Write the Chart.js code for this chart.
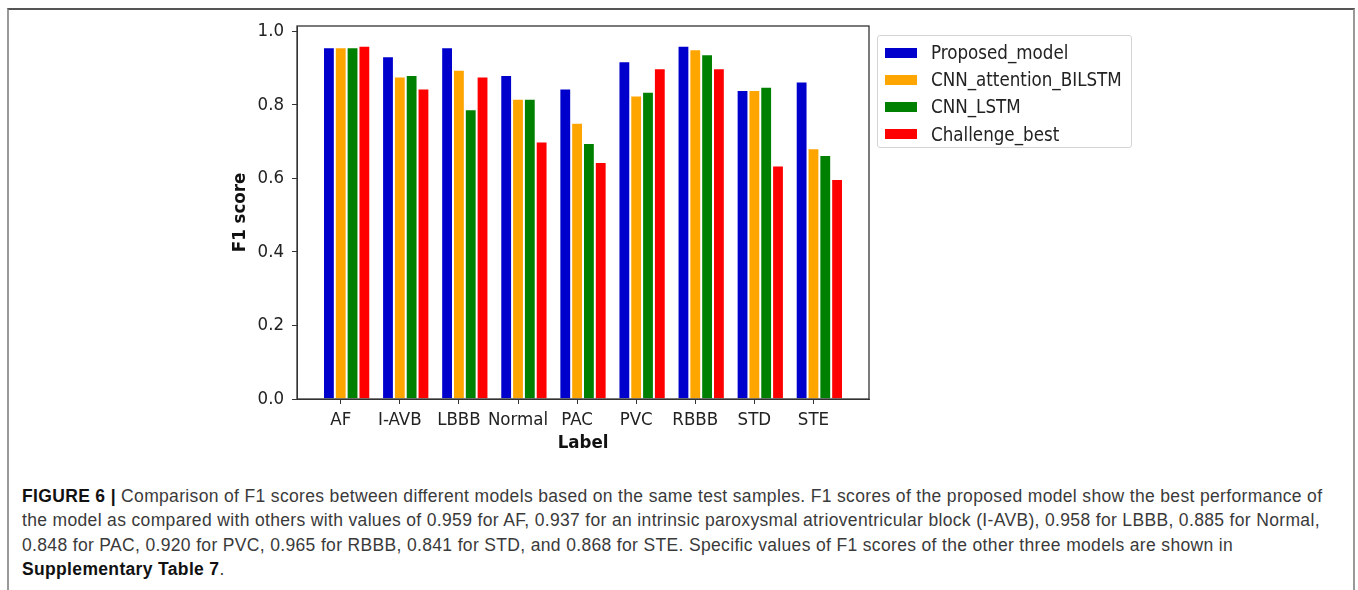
<!DOCTYPE html>
<html>
<head>
<meta charset="utf-8">
<script src="https://cdn.jsdelivr.net/npm/chart.js@4/dist/chart.umd.min.js"></script>
<style>
  body { margin: 0; background: #fff; width: 1358px; height: 590px; overflow: hidden; position: relative; }
  .frame { position: absolute; left: 7px; top: 8px; width: 1348px; height: 640px; border-top: 2px solid #555; border-left: 2px solid #999; border-right: 2px solid #999; box-sizing: border-box; }
  .chart-wrap { position: absolute; left: 0; top: 0; width: 1358px; height: 460px; }
  .legend { position: absolute; left: 877px; top: 35px; width: 255px; height: 113px; box-sizing: border-box; border: 1px solid #d4d4d4; border-radius: 3px; padding-top: 3px; font-family: 'DejaVu Sans Condensed', 'DejaVu Sans', sans-serif; font-size: 18.6px; color: #222; }
  .legend .row { height: 27.2px; display: flex; align-items: center; }
  .legend .patch { width: 32px; height: 10px; margin-left: 7px; margin-right: 14px; }
  .caption { position: absolute; left: 22px; top: 484px; font-family: 'Liberation Sans', Arial, sans-serif; font-size: 17.5px; letter-spacing: 0.34px; line-height: 24.3px; color: #3a3a3a; white-space: nowrap; }
  .caption b { color: #111; }
</style>
</head>
<body>
<div class="frame"></div>
<div class="chart-wrap"><canvas id="chart"></canvas></div>
<div class="legend" id="legend"></div>
<div class="caption">
<b>FIGURE 6 |</b> Comparison of F1 scores between different models based on the same test samples. F1 scores of the proposed model show the best performance of<br>
the model as compared with others with values of 0.959 for AF, 0.937 for an intrinsic paroxysmal atrioventricular block (I-AVB), 0.958 for LBBB, 0.885 for Normal,<br>
0.848 for PAC, 0.920 for PVC, 0.965 for RBBB, 0.841 for STD, and 0.868 for STE. Specific values of F1 scores of the other three models are shown in<br>
<b>Supplementary Table 7</b>.
</div>
<script>
const categories = ['AF', 'I-AVB', 'LBBB', 'Normal', 'PAC', 'PVC', 'RBBB', 'STD', 'STE'];
const seriesNames = ['Proposed_model', 'CNN_attention_BILSTM', 'CNN_LSTM', 'Challenge_best'];
const proposedModel = [0.956, 0.932, 0.956, 0.881, 0.844, 0.918, 0.960, 0.840, 0.863];
const cnnAttentionBilstm = [0.956, 0.877, 0.895, 0.816, 0.751, 0.825, 0.951, 0.840, 0.682];
const cnnLstm = [0.956, 0.881, 0.788, 0.816, 0.696, 0.835, 0.937, 0.849, 0.663];
const challengeBest = [0.960, 0.844, 0.877, 0.700, 0.644, 0.899, 0.899, 0.635, 0.598];
const yTicks = [0, 0.2, 0.4, 0.6, 0.8, 1.0];
const colors = ['#0000cd', '#ffa500', '#008000', '#ff0000'];

const seriesValues = [proposedModel, cnnAttentionBilstm, cnnLstm, challengeBest];

Chart.defaults.font.family = "'DejaVu Sans Condensed', 'DejaVu Sans', sans-serif";
Chart.defaults.font.size = 18.5;
Chart.defaults.color = '#222';

// spines on all four sides, like matplotlib
const frame = {
  id: 'frame',
  afterDraw(chart) {
    const a = chart.chartArea, ctx = chart.ctx;
    ctx.save();
    ctx.strokeStyle = '#333';
    ctx.lineWidth = 1.3;
    ctx.strokeRect(a.left, a.top, a.right - a.left, a.bottom - a.top);
    ctx.restore();
  }
};

new Chart(document.getElementById('chart'), {
  type: 'bar',
  data: {
    datasets: seriesNames.map((name, k) => ({
      label: name,
      data: seriesValues[k].map((v, i) => ({ x: i, y: v })),
      backgroundColor: colors[k],
      borderColor: '#fff',
      borderWidth: 1,
      categoryPercentage: 0.8,
      barPercentage: 1.0
    }))
  },
  options: {
    responsive: true,
    maintainAspectRatio: false,
    animation: false,
    layout: { padding: { left: 224, right: 489, top: 26, bottom: 4 } },
    plugins: { legend: { display: false }, tooltip: { enabled: false } },
    scales: {
      x: {
        type: 'linear',
        offset: false,
        min: -0.84,
        max: 8.84,
        // the original puts each label under the second bar of its group
        afterBuildTicks: (scale) => { scale.ticks = categories.map((c, i) => ({ value: i - 0.1 })); },
        afterFit: (scale) => { scale.height = 57; },
        ticks: { autoSkip: false, maxRotation: 0, padding: 5, callback: (v, idx) => categories[idx] },
        grid: { offset: false, drawOnChartArea: false, drawTicks: true, tickLength: 5, color: '#333' },
        border: { display: true, color: '#333' },
        title: { display: true, text: 'Label', font: { weight: 'bold', size: 18.5 }, color: '#111', padding: { top: 2, bottom: 2 } }
      },
      y: {
        min: 0,
        max: 1.014,
        afterBuildTicks: (scale) => { scale.ticks = yTicks.map(v => ({ value: v })); },
        afterFit: (scale) => { scale.width = 73; },
        ticks: { padding: 8, callback: (v) => v.toFixed(1) },
        grid: { drawOnChartArea: false, drawTicks: true, tickLength: 5, color: '#333' },
        border: { display: true, color: '#333' },
        title: { display: true, text: 'F1 score', font: { weight: 'bold', size: 18.5 }, color: '#111', padding: { top: 5, bottom: 4 } }
      }
    }
  },
  plugins: [frame]
});

const legend = document.getElementById('legend');
seriesNames.forEach((name, k) => {
  const row = document.createElement('div');
  row.className = 'row';
  row.innerHTML = '<span class="patch" style="background:' + colors[k] + '"></span><span>' + name + '</span>';
  legend.appendChild(row);
});
</script>
</body>
</html>
